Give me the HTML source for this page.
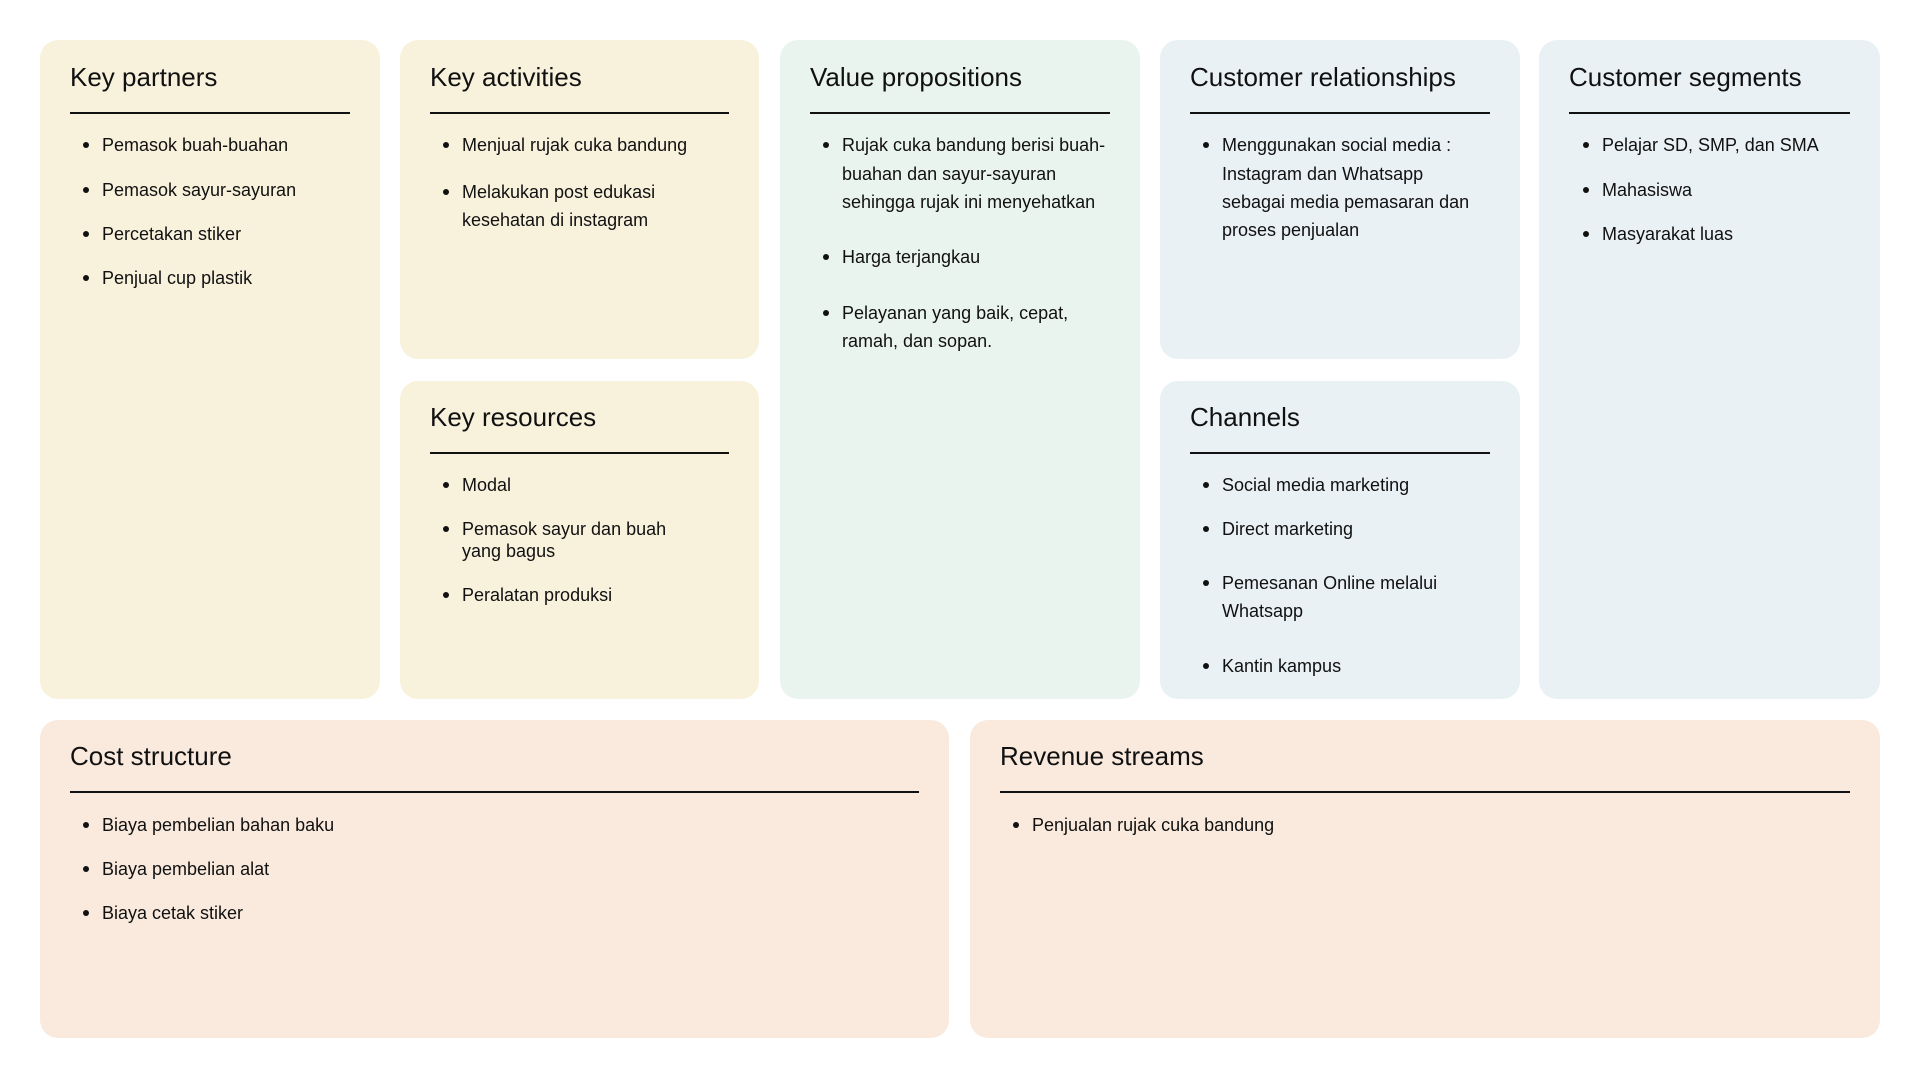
<!DOCTYPE html>
<html><head><meta charset="utf-8"><style>
body{margin:0;width:1920px;height:1080px;background:#fff;position:relative;overflow:hidden;font-family:"Liberation Sans",Arial,sans-serif;color:#111}
.b{position:absolute;border-radius:18px}
.y{background:#f8f2dd}.g{background:#eaf4ef}.bl{background:#e9f1f4}.p{background:#f9eadd}
.t{position:absolute;font-size:26px;line-height:32px;white-space:nowrap}
.l{position:absolute;height:2px;background:#111}
.i{position:absolute;font-size:18px;line-height:28px;white-space:nowrap}
.d{position:absolute;width:6px;height:6px;border-radius:50%;background:#111}
</style></head><body>
<div class="b y" style="left:40px;top:40px;width:340px;height:659px"></div>
<div class="b y" style="left:400px;top:40px;width:359px;height:319px"></div>
<div class="b y" style="left:400px;top:381px;width:359px;height:318px"></div>
<div class="b g" style="left:780px;top:40px;width:360px;height:659px"></div>
<div class="b bl" style="left:1160px;top:40px;width:360px;height:319px"></div>
<div class="b bl" style="left:1160px;top:381px;width:360px;height:318px"></div>
<div class="b bl" style="left:1539px;top:40px;width:341px;height:659px"></div>
<div class="b p" style="left:40px;top:720px;width:909px;height:318px"></div>
<div class="b p" style="left:970px;top:720px;width:910px;height:318px"></div>

<div class="t" style="left:70px;top:61px">Key partners</div><div class="l" style="left:70px;top:112px;width:280px"></div>
<div class="t" style="left:430px;top:61px">Key activities</div><div class="l" style="left:430px;top:112px;width:299px"></div>
<div class="t" style="left:430px;top:401px">Key resources</div><div class="l" style="left:430px;top:452px;width:299px"></div>
<div class="t" style="left:810px;top:61px">Value propositions</div><div class="l" style="left:810px;top:112px;width:300px"></div>
<div class="t" style="left:1190px;top:61px">Customer relationships</div><div class="l" style="left:1190px;top:112px;width:300px"></div>
<div class="t" style="left:1190px;top:401px">Channels</div><div class="l" style="left:1190px;top:452px;width:300px"></div>
<div class="t" style="left:1569px;top:61px">Customer segments</div><div class="l" style="left:1569px;top:112px;width:281px"></div>
<div class="t" style="left:70px;top:740px">Cost structure</div><div class="l" style="left:70px;top:791px;width:849px"></div>
<div class="t" style="left:1000px;top:740px">Revenue streams</div><div class="l" style="left:1000px;top:791px;width:850px"></div>

<div class="d" style="left:83px;top:142px"></div><div class="i" style="left:102px;top:131px">Pemasok buah-buahan</div>
<div class="d" style="left:83px;top:187px"></div><div class="i" style="left:102px;top:176px">Pemasok sayur-sayuran</div>
<div class="d" style="left:83px;top:231px"></div><div class="i" style="left:102px;top:220px">Percetakan stiker</div>
<div class="d" style="left:83px;top:275px"></div><div class="i" style="left:102px;top:264px">Penjual cup plastik</div>

<div class="d" style="left:443px;top:142px"></div><div class="i" style="left:462px;top:131px">Menjual rujak cuka bandung</div>
<div class="d" style="left:443px;top:189px"></div><div class="i" style="left:462px;top:178px">Melakukan post edukasi</div>
<div class="i" style="left:462px;top:206px">kesehatan di instagram</div>

<div class="d" style="left:443px;top:482px"></div><div class="i" style="left:462px;top:471px">Modal</div>
<div class="d" style="left:443px;top:526px"></div><div class="i" style="left:462px;top:515px">Pemasok sayur dan buah</div>
<div class="i" style="left:462px;top:537px">yang bagus</div>
<div class="d" style="left:443px;top:592px"></div><div class="i" style="left:462px;top:581px">Peralatan produksi</div>

<div class="d" style="left:823px;top:142px"></div><div class="i" style="left:842px;top:131px">Rujak cuka bandung berisi buah-</div>
<div class="i" style="left:842px;top:160px">buahan dan sayur-sayuran</div>
<div class="i" style="left:842px;top:188px">sehingga rujak ini menyehatkan</div>
<div class="d" style="left:823px;top:254px"></div><div class="i" style="left:842px;top:243px">Harga terjangkau</div>
<div class="d" style="left:823px;top:310px"></div><div class="i" style="left:842px;top:299px">Pelayanan yang baik, cepat,</div>
<div class="i" style="left:842px;top:327px">ramah, dan sopan.</div>

<div class="d" style="left:1203px;top:142px"></div><div class="i" style="left:1222px;top:131px">Menggunakan social media :</div>
<div class="i" style="left:1222px;top:160px">Instagram dan Whatsapp</div>
<div class="i" style="left:1222px;top:188px">sebagai media pemasaran dan</div>
<div class="i" style="left:1222px;top:216px">proses penjualan</div>

<div class="d" style="left:1203px;top:482px"></div><div class="i" style="left:1222px;top:471px">Social media marketing</div>
<div class="d" style="left:1203px;top:526px"></div><div class="i" style="left:1222px;top:515px">Direct marketing</div>
<div class="d" style="left:1203px;top:580px"></div><div class="i" style="left:1222px;top:569px">Pemesanan Online melalui</div>
<div class="i" style="left:1222px;top:597px">Whatsapp</div>
<div class="d" style="left:1203px;top:663px"></div><div class="i" style="left:1222px;top:652px">Kantin kampus</div>

<div class="d" style="left:1583px;top:142px"></div><div class="i" style="left:1602px;top:131px">Pelajar SD, SMP, dan SMA</div>
<div class="d" style="left:1583px;top:187px"></div><div class="i" style="left:1602px;top:176px">Mahasiswa</div>
<div class="d" style="left:1583px;top:231px"></div><div class="i" style="left:1602px;top:220px">Masyarakat luas</div>

<div class="d" style="left:83px;top:822px"></div><div class="i" style="left:102px;top:811px">Biaya pembelian bahan baku</div>
<div class="d" style="left:83px;top:866px"></div><div class="i" style="left:102px;top:855px">Biaya pembelian alat</div>
<div class="d" style="left:83px;top:910px"></div><div class="i" style="left:102px;top:899px">Biaya cetak stiker</div>

<div class="d" style="left:1013px;top:822px"></div><div class="i" style="left:1032px;top:811px">Penjualan rujak cuka bandung</div>
</body></html>
